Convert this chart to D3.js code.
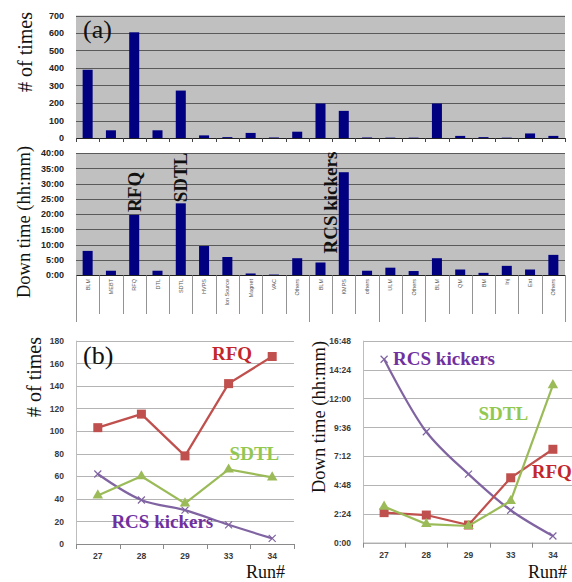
<!DOCTYPE html>
<html>
<head>
<meta charset="utf-8">
<script src="https://cdn.jsdelivr.net/npm/d3@7"></script>
<style>
  body { margin: 0; background: #fff; }
  svg { display: block; }
  .serif { font-family: "Liberation Serif", "Times New Roman", serif; }
  .tickA text { font-family: "Liberation Sans", Arial, sans-serif; font-weight: bold; font-size: 9px; fill: #222; }
  .tickB text { font-family: "Liberation Sans", Arial, sans-serif; font-weight: bold; font-size: 8.5px; fill: #3a3a3a; }
  .catLabel { font-family: "Liberation Sans", Arial, sans-serif; font-size: 5.5px; fill: #555; }
</style>
</head>
<body>
<div id="chart"></div>
<script>
////////////////////////////  Data  ////////////////////////////
// (a) failure categories, grouped linac / RCS / ... / MR
const categories = ["BLM", "MEBT", "RFQ", "DTL", "SDTL", "HVPS", "Ion Source", "Magnet", "VAC", "Others",
  "BLM", "KMPS", "others", "ULM", "Others", "BLM", "QM", "BM", "Inj", "Ext", "Others"];
const groupBreaks = [0, 10, 13, 15, 21];
const countTimes = [390, 44, 604, 44, 271, 15, 5, 29, 3, 36, 197, 155, 3, 2, 2, 197, 12, 5, 2, 26, 12];
const downHours = [7.9, 1.4, 19.7, 1.4, 23.5, 9.5, 5.9, 0.5, 0.15, 5.5, 4.1, 33.7, 1.4, 2.4, 1.3, 5.5, 1.8, 0.7, 3.0, 1.8, 6.6];
const countTicks = [0, 100, 200, 300, 400, 500, 600, 700];
const downTicks = [0, 5, 10, 15, 20, 25, 30, 35, 40];

// (b) trend by run
const runs = ["27", "28", "29", "33", "34"];
const rfqCount = [103, 115, 78, 142, 166];
const sdtlCount = [43, 60, 36, 66, 59];
const rcsCount = [62, 39, 30, 17, 5];
const rfqDown = [2.5, 2.3, 1.47, 5.4, 7.77];
const sdtlDown = [3.0, 1.55, 1.39, 3.47, 13.1];
const rcsDown = [15.26, 9.23, 5.7, 2.7, 0.56];
const countTicksB = [0, 20, 40, 60, 80, 100, 120, 140, 160, 180];
const downTicksB = [0, 2.4, 4.8, 7.2, 9.6, 12, 14.4, 16.8];

const colors = { rfq: "#c0504d", sdtl: "#9bbb59", rcs: "#8064a2" };
const textColors = { rfq: "#c3262b", sdtl: "#92c850", rcs: "#7030a0" };

////////////////////////////  Init  ////////////////////////////
const width = 572;
const height = 582;
const svg = d3.select("#chart").append("svg").attr("width", width).attr("height", height);

const hhmm = (d) => {
  const h = Math.floor(d + 1e-9);
  const m = Math.round((d - h) * 60);
  return h + ":" + String(m).padStart(2, "0");
};

// scales
const xA = d3.scaleBand().domain(d3.range(categories.length)).range([76, 565]);
const yA1 = d3.scaleLinear().domain([0, 700]).range([138, 15.5]);
const yA2 = d3.scaleLinear().domain([0, 40]).range([275, 153]);

const xB1 = d3.scaleBand().domain(runs).range([76, 294]);
const yB1 = d3.scaleLinear().domain([0, 180]).range([544, 340.7]);
const xB2 = d3.scaleBand().domain(runs).range([363, 574]);
const yB2 = d3.scaleLinear().domain([0, 16.8]).range([542.7, 340.7]);

const mid = (scale, key) => scale(key) + scale.bandwidth() / 2;

////////////////////////////  (a) bar panels  ////////////////////////////
function barPanel(yScale, values, ticks, fmt) {
  const [bottom, top] = yScale.range();
  const g = svg.append("g");
  const x0 = xA.range()[0];
  const x1 = xA.range()[1];

  g.append("rect")
    .attr("x", x0).attr("y", top)
    .attr("width", x1 - x0).attr("height", bottom - top)
    .attr("fill", "#c0c0c0");

  g.selectAll(".grid")
    .data(ticks.filter((d) => d > 0))
    .join("line")
    .attr("x1", x0).attr("x2", x1)
    .attr("y1", (d) => Math.round(yScale(d)) + 0.5)
    .attr("y2", (d) => Math.round(yScale(d)) + 0.5)
    .attr("stroke", "#5a5a5a")
    .attr("stroke-width", 1);

  const bw = xA.bandwidth() * 0.43;
  g.selectAll(".bar")
    .data(values)
    .join("rect")
    .attr("x", (d, i) => xA(i) + (xA.bandwidth() - bw) / 2)
    .attr("y", (d) => yScale(d))
    .attr("width", bw)
    .attr("height", (d) => bottom - yScale(d))
    .attr("fill", "#000080");

  g.append("line")
    .attr("x1", x0).attr("x2", x1)
    .attr("y1", bottom + 0.5).attr("y2", bottom + 0.5)
    .attr("stroke", "#222");

  g.append("g")
    .attr("class", "tickA")
    .attr("transform", `translate(${x0 - 9},0)`)
    .call(d3.axisLeft(yScale).tickValues(ticks).tickFormat(fmt).tickSize(0))
    .call((a) => a.select(".domain").remove());

  return g;
}

const panelTop = barPanel(yA1, countTimes, countTicks, d3.format("d"));
const panelDown = barPanel(yA2, downHours, downTicks, (d) => d + ":00");

// category ticks under the upper panel
panelTop.selectAll(".ctick")
  .data(d3.range(categories.length + 1))
  .join("line")
  .attr("x1", (i) => Math.round(76 + i * xA.step()) + 0.5)
  .attr("x2", (i) => Math.round(76 + i * xA.step()) + 0.5)
  .attr("y1", 138).attr("y2", 142)
  .attr("stroke", "#444");

// category separators + labels under the lower panel
panelDown.selectAll(".sep")
  .data(d3.range(categories.length + 1))
  .join("line")
  .attr("x1", (i) => Math.round(76 + i * xA.step()) + 0.5)
  .attr("x2", (i) => Math.round(76 + i * xA.step()) + 0.5)
  .attr("y1", 275)
  .attr("y2", (i) => (groupBreaks.includes(i) ? 322 : 314))
  .attr("stroke", "#777")
  .attr("stroke-width", 0.8);

panelDown.selectAll(".cat")
  .data(categories)
  .join("text")
  .attr("class", "catLabel")
  .attr("transform", (d, i) => `translate(${xA(i) + xA.bandwidth() / 2 + 2},279) rotate(-90)`)
  .attr("text-anchor", "end")
  .text((d) => d);

// annotations on the down time bars
const barNotes = [
  { idx: 2, text: "RFQ", dx: 7, dy: -3 },
  { idx: 4, text: "SDTL", dx: 6, dy: -1 },
  { idx: 10, text: "RCS kickers", dx: 16, dy: -9 }
];
svg.selectAll(".barNote")
  .data(barNotes)
  .join("text")
  .attr("class", "serif")
  .attr("transform", (d) => `translate(${xA(d.idx) + xA.bandwidth() / 2 + d.dx},${yA2(downHours[d.idx]) + d.dy}) rotate(-90)`)
  .attr("font-size", 19)
  .attr("font-weight", "bold")
  .attr("fill", "#111")
  .text((d) => d.text);

// titles for (a)
svg.append("text").attr("class", "serif")
  .attr("x", 83).attr("y", 38).attr("font-size", 26).attr("fill", "#111")
  .text("(a)");
svg.append("text").attr("class", "serif")
  .attr("transform", "translate(32,52) rotate(-90)")
  .attr("text-anchor", "middle").attr("font-size", 20).attr("fill", "#111")
  .text("# of times");
svg.append("text").attr("class", "serif")
  .attr("transform", "translate(30,222) rotate(-90)")
  .attr("text-anchor", "middle").attr("font-size", 18.5).attr("fill", "#111")
  .text("Down time (hh:mm)");

////////////////////////////  (b) line panels  ////////////////////////////
function linePanel(xScale, yScale, ticks, fmt, series) {
  const g = svg.append("g");
  const [x0, x1] = xScale.range();
  const [bottom, top] = yScale.range();

  g.selectAll(".grid")
    .data(ticks.filter((d) => d > 0))
    .join("line")
    .attr("x1", x0).attr("x2", x1)
    .attr("y1", (d) => Math.round(yScale(d)) + 0.5)
    .attr("y2", (d) => Math.round(yScale(d)) + 0.5)
    .attr("stroke", "#b4b4b4");

  g.append("line")
    .attr("x1", x0 + 0.5).attr("x2", x0 + 0.5)
    .attr("y1", top).attr("y2", bottom)
    .attr("stroke", "#bdbdbd");

  g.append("g")
    .attr("class", "tickB")
    .attr("transform", `translate(${x0 - 9},0)`)
    .call(d3.axisLeft(yScale).tickValues(ticks).tickFormat(fmt).tickSize(0))
    .call((a) => a.select(".domain").remove());

  g.append("g")
    .attr("class", "tickB")
    .attr("transform", `translate(0,${bottom})`)
    .call(d3.axisBottom(xScale).tickSize(0).tickPadding(9))
    .call((a) => a.select(".domain").attr("stroke", "#8a8a8a"));

  g.selectAll(".xtick")
    .data(d3.range(xScale.domain().length + 1))
    .join("line")
    .attr("x1", (i) => Math.round(x0 + i * xScale.step()) + 0.5)
    .attr("x2", (i) => Math.round(x0 + i * xScale.step()) + 0.5)
    .attr("y1", bottom).attr("y2", bottom + 5)
    .attr("stroke", "#8a8a8a");

  const cx = (d, i) => mid(xScale, runs[i]);

  series.forEach((s) => {
    const line = d3.line()
      .x(cx)
      .y((d) => yScale(d))
      .curve(s.smooth ? d3.curveCatmullRom.alpha(0.5) : d3.curveLinear);

    g.append("path")
      .datum(s.values)
      .attr("d", line)
      .attr("fill", "none")
      .attr("stroke", s.color)
      .attr("stroke-width", 2.2);

    const marks = g.selectAll(null).data(s.values).join("g")
      .attr("transform", (d, i) => `translate(${cx(d, i)},${yScale(d)})`);

    if (s.marker === "square") {
      marks.append("rect")
        .attr("x", -4.5).attr("y", -4.5).attr("width", 9).attr("height", 9)
        .attr("fill", s.color);
    } else if (s.marker === "triangle") {
      marks.append("path")
        .attr("d", d3.symbol(d3.symbolTriangle, 48))
        .attr("fill", s.color);
    } else {
      marks.append("path")
        .attr("d", "M-3.5,-3.5L3.5,3.5M-3.5,3.5L3.5,-3.5")
        .attr("stroke", s.color)
        .attr("stroke-width", 1.2);
    }
  });

  return g;
}

linePanel(xB1, yB1, countTicksB, d3.format("d"), [
  { values: rcsCount, color: colors.rcs, marker: "x", smooth: true },
  { values: sdtlCount, color: colors.sdtl, marker: "triangle" },
  { values: rfqCount, color: colors.rfq, marker: "square" }
]);

linePanel(xB2, yB2, downTicksB, hhmm, [
  { values: rcsDown, color: colors.rcs, marker: "x", smooth: true },
  { values: rfqDown, color: colors.rfq, marker: "square" },
  { values: sdtlDown, color: colors.sdtl, marker: "triangle" }
]);

// series labels
const lineNotes = [
  { text: "RFQ", color: textColors.rfq, x: mid(xB1, "29") + 27, y: yB1(163) },
  { text: "SDTL", color: textColors.sdtl, x: mid(xB1, "33") + 1, y: yB1(74) },
  { text: "RCS kickers", color: textColors.rcs, x: mid(xB1, "28") - 30, y: yB1(14) },
  { text: "RCS kickers", color: textColors.rcs, x: mid(xB2, "27") + 9, y: yB2(14.8) },
  { text: "SDTL", color: textColors.sdtl, x: mid(xB2, "29") + 10, y: yB2(10.2) },
  { text: "RFQ", color: textColors.rfq, x: mid(xB2, "33") + 21, y: yB2(5.4) }
];
svg.selectAll(".lineNote")
  .data(lineNotes)
  .join("text")
  .attr("class", "serif")
  .attr("x", (d) => d.x)
  .attr("y", (d) => d.y)
  .attr("font-size", 19)
  .attr("font-weight", "bold")
  .attr("fill", (d) => d.color)
  .text((d) => d.text);

// titles for (b)
svg.append("text").attr("class", "serif")
  .attr("x", 83).attr("y", 364).attr("font-size", 26).attr("fill", "#111")
  .text("(b)");
svg.append("text").attr("class", "serif")
  .attr("transform", "translate(41,377) rotate(-90)")
  .attr("text-anchor", "middle").attr("font-size", 20).attr("fill", "#111")
  .text("# of times");
svg.append("text").attr("class", "serif")
  .attr("transform", "translate(325,417) rotate(-90)")
  .attr("text-anchor", "middle").attr("font-size", 18.5).attr("fill", "#111")
  .text("Down time (hh:mm)");
svg.append("text").attr("class", "serif")
  .attr("x", 285).attr("y", 578).attr("text-anchor", "end")
  .attr("font-size", 18).attr("fill", "#111")
  .text("Run#");
svg.append("text").attr("class", "serif")
  .attr("x", 567).attr("y", 578).attr("text-anchor", "end")
  .attr("font-size", 18).attr("fill", "#111")
  .text("Run#");
</script>
</body>
</html>
